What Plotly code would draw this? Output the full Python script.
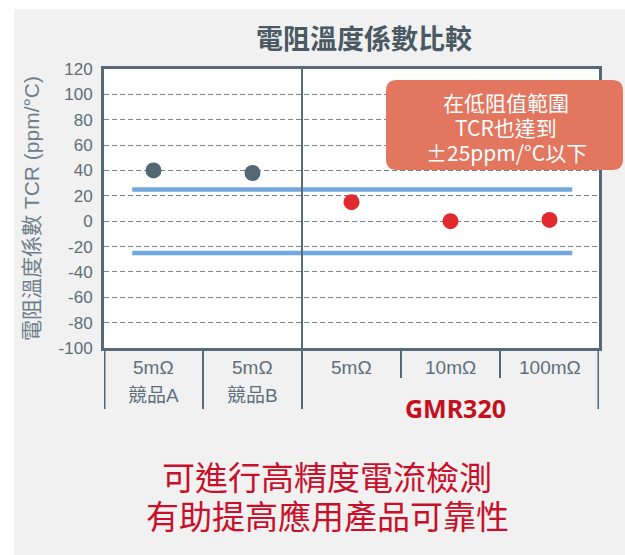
import plotly.graph_objects as go

# ---- data ----
groups = ["競品A", "競品B", "GMR320", "GMR320", "GMR320"]
resistances = ["5mΩ", "5mΩ", "5mΩ", "10mΩ", "100mΩ"]
competitor_tcr = [40, 38]
gmr_tcr = [15, 0, 1]
limit_values = [25, -25]
y_ticks = [-100, -80, -60, -40, -20, 0, 20, 40, 60, 80, 100, 120]
y_tick_labels = [str(v) for v in y_ticks]
callout_lines = ["在低阻值範圍", "TCR也達到", "±25ppm/°C以下"]
message_lines = ["可進行高精度電流檢測", "有助提高應用產品可靠性"]

OFF = 0  # body margin removed by post script
W, H = 625, 555
# plot area in screenshot pixels: x 104..599, y 69..348
ML = 104 - OFF
MT = 69 - OFF
MR = W - (599 - OFF)
MB = H - (348 - OFF)
PW, PH = W - ML - MR, H - MT - MB

def px(x):
    return (x - OFF - ML) / PW

def py(y):
    return (H - MB - (y - OFF)) / PH

AX = "#566a77"
TXT = "#5f6f7a"

fig = go.Figure()

x_idx = list(range(len(resistances)))
for lim in limit_values:
    fig.add_trace(go.Scatter(x=[-0.215, 4.23], y=[lim, lim], mode="lines",
                             line=dict(color="#72a8dc", width=4.5),
                             hoverinfo="skip", showlegend=False))

fig.add_trace(go.Scatter(x=x_idx[:2], y=competitor_tcr, mode="markers",
                         marker=dict(size=16, color="#536773"), showlegend=False))
fig.add_trace(go.Scatter(x=x_idx[2:], y=gmr_tcr, mode="markers",
                         marker=dict(size=16, color="#e02a2e"), showlegend=False))

shapes = []
# white outer margins (top/left)
shapes.append(dict(type="rect", xref="paper", yref="paper", x0=px(-5), x1=px(14),
                   y0=py(H + 20), y1=py(-5), fillcolor="white", line_width=0, layer="below"))
shapes.append(dict(type="rect", xref="paper", yref="paper", x0=px(-5), x1=px(W + 20),
                   y0=py(9), y1=py(-5), fillcolor="white", line_width=0, layer="below"))
# divider inside plot and table lines
shapes.append(dict(type="line", xref="x", yref="paper", x0=1.5, x1=1.5,
                   y0=py(409), y1=1, line=dict(color=AX, width=2)))
for xv, yb, w in [(-0.5, 409, 3), (0.5, 409, 2), (2.5, 378, 2), (3.5, 378, 2), (4.5, 409, 3)]:
    shapes.append(dict(type="line", xref="x", yref="paper", x0=xv, x1=xv,
                       y0=py(yb), y1=0, line=dict(color=AX, width=w)))

# rounded callout box
bx0, bx1, by0, by1 = px(386), px(623), py(170), py(80)
rx, ry = 11 / PW, 11 / PH
path = (f"M {bx0+rx},{by1} L {bx1-rx},{by1} Q {bx1},{by1} {bx1},{by1-ry} "
        f"L {bx1},{by0+ry} Q {bx1},{by0} {bx1-rx},{by0} "
        f"L {bx0+rx},{by0} Q {bx0},{by0} {bx0},{by0+ry} "
        f"L {bx0},{by1-ry} Q {bx0},{by1} {bx0+rx},{by1} Z")
shapes.append(dict(type="path", xref="paper", yref="paper", path=path,
                   fillcolor="#e2765f", line_width=0, layer="above"))

annotations = []
for i, r in enumerate(resistances):
    annotations.append(dict(x=i, xref="x", y=py(367), yref="paper", text=r,
                            showarrow=False, yanchor="middle",
                            font=dict(family="Liberation Sans, Noto Sans CJK TC", size=19, color=TXT)))
for i in range(2):
    annotations.append(dict(x=i, xref="x", y=py(395), yref="paper", text=groups[i],
                            showarrow=False, yanchor="middle",
                            font=dict(family="Liberation Sans, Noto Sans CJK TC", size=19, color=TXT)))
annotations.append(dict(x=3.05, xref="x", y=py(408), yref="paper", text="<b>" + groups[2] + "</b>",
                        showarrow=False, yanchor="middle",
                        font=dict(family="Noto Sans", size=25, color="#c4101c")))
for k, line in enumerate(callout_lines):
    annotations.append(dict(x=px(506), xref="paper", y=py(102 + 25 * k), yref="paper",
                            text=line, showarrow=False, yanchor="middle", xanchor="center",
                            font=dict(family="Noto Sans CJK TC", size=21, color="white")))
for k, line in enumerate(message_lines):
    annotations.append(dict(x=px(327), xref="paper", y=py(476 + 39 * k), yref="paper",
                            text=line, showarrow=False, yanchor="middle", xanchor="center",
                            font=dict(family="Noto Sans CJK TC", size=33, color="#c8102a")))

fig.update_layout(
    width=W, height=H,
    margin=dict(l=ML, r=MR, t=MT, b=MB),
    paper_bgcolor="#f1f1f1", plot_bgcolor="white",
    hovermode=False,
    title=dict(text="<b>電阻溫度係數比較</b>", x=(364 - OFF) / W, xanchor="center",
               y=1 - (40 - OFF) / H, yanchor="middle",
               font=dict(family="Noto Sans CJK TC", size=27, color="#4b5963")),
    xaxis=dict(range=[-0.5, 4.5], showticklabels=False, showgrid=False, zeroline=False,
               showline=True, linecolor=AX, linewidth=3, mirror=True, fixedrange=True),
    yaxis=dict(range=[-100, 120], tickvals=y_ticks, ticktext=y_tick_labels, showgrid=True,
               gridcolor="#74848f", griddash="5px,3px", gridwidth=1, zeroline=False,
               showline=True, linecolor=AX, linewidth=3, mirror=True,
               ticks="", ticklabelstandoff=5, fixedrange=True,
               tickfont=dict(family="Liberation Sans", size=17, color="#5d6e79"),
               title=dict(text="電阻溫度係數 TCR (ppm/°C)", standoff=14,
                          font=dict(family="Liberation Sans, Noto Sans CJK TC", size=21, color="#6f7f8a"))),
    shapes=shapes, annotations=annotations,
)

fig.write_html("out.html", config={"displayModeBar": False},
               post_script="document.body.style.margin='0';document.body.style.overflow='hidden';")
